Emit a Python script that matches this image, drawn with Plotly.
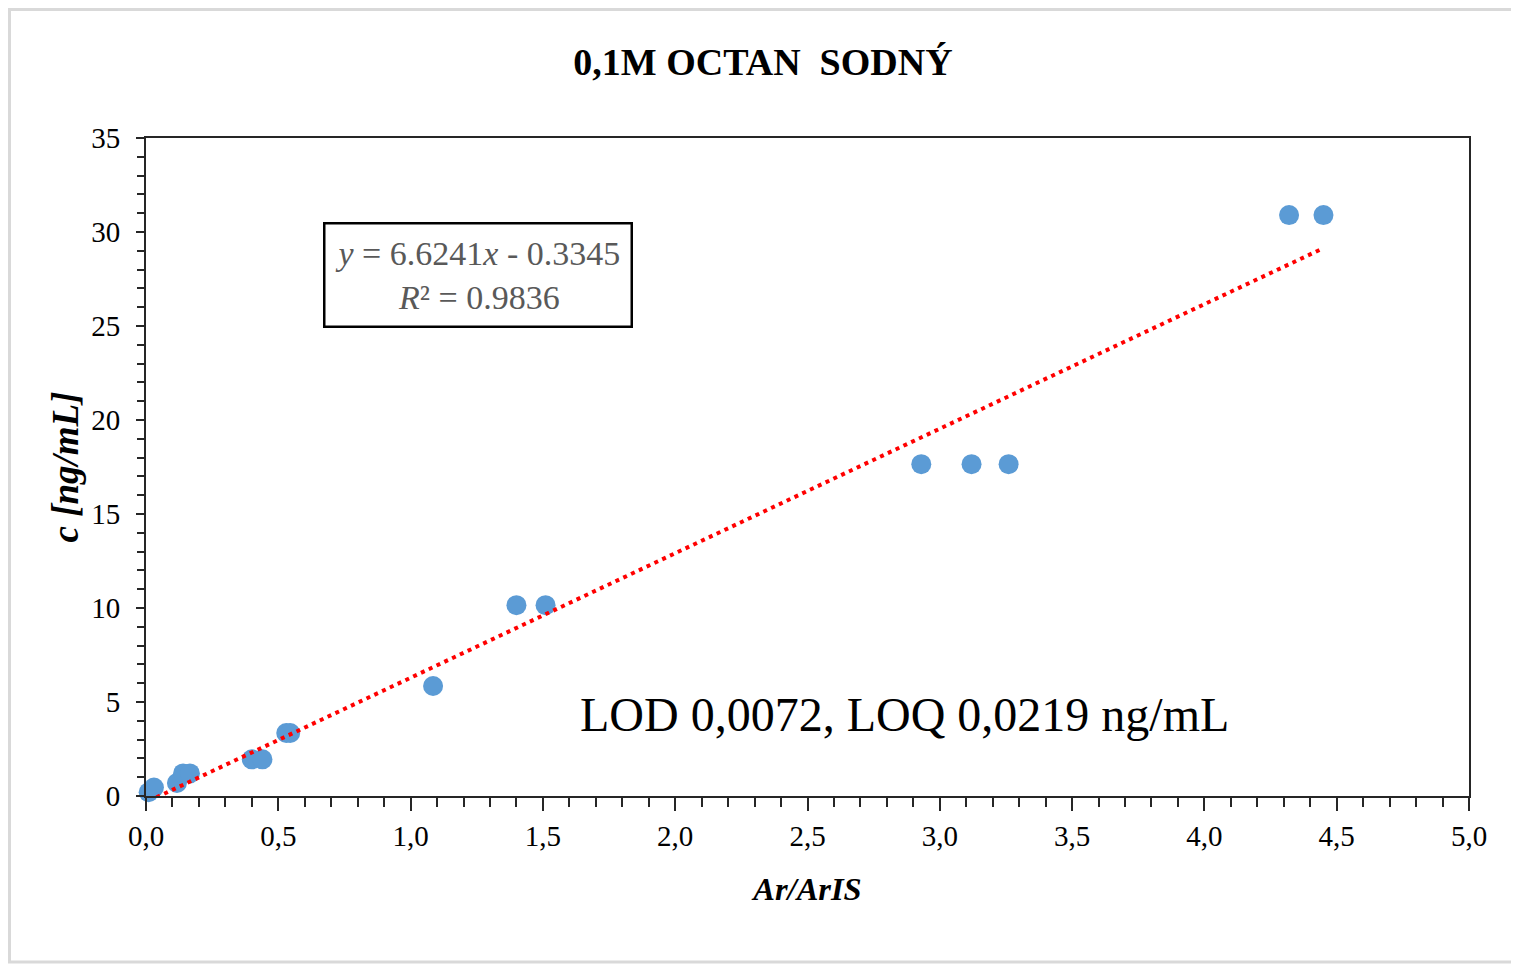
import plotly.graph_objects as go

# Data
ratio = [0.01, 0.03, 0.117, 0.14, 0.166, 0.40, 0.44, 0.53, 0.545, 1.085, 1.40, 1.51, 2.93, 3.12, 3.26, 4.32, 4.45]
conc = [0.2, 0.45, 0.69, 1.2, 1.2, 1.95, 1.95, 3.35, 3.35, 5.85, 10.15, 10.15, 17.65, 17.65, 17.65, 30.9, 30.9]
slope = 6.6241
intercept = -0.3345
r2 = 0.9836
x_ticks = [0.0, 0.5, 1.0, 1.5, 2.0, 2.5, 3.0, 3.5, 4.0, 4.5, 5.0]
x_tick_labels = ["0,0", "0,5", "1,0", "1,5", "2,0", "2,5", "3,0", "3,5", "4,0", "4,5", "5,0"]
y_ticks = [0, 5, 10, 15, 20, 25, 30, 35]

OFF = 8  # page body margin
W, H = 1519 - OFF, 966 - OFF
L, T = 146 - OFF, 138 - OFF
R = W - (1469 - OFF)
B = H - (796 - OFF)
PW, PH = W - L - R, H - T - B

FONT = "Liberation Serif"

trend_x = [min(ratio), max(ratio)]
trend_y = [slope * v + intercept for v in trend_x]

fig = go.Figure()
fig.add_trace(go.Scatter(
    x=ratio, y=conc, mode="markers",
    marker=dict(color="#5B9BD5", size=20, line=dict(width=0)),
    showlegend=False, cliponaxis=False))
fig.add_trace(go.Scatter(
    x=trend_x, y=trend_y, mode="lines",
    line=dict(color="#FF0000", width=4, dash="4px,4.6px"),
    showlegend=False))

def px2paper_x(px):
    return (px - OFF - L) / PW

def px2paper_y(py):
    return (H - B - (py - OFF)) / PH

fig.add_shape(type="rect", xref="paper", yref="paper",
              x0=px2paper_x(9.5), x1=px2paper_x(1516),
              y0=px2paper_y(962), y1=px2paper_y(9.5),
              line=dict(color="#D9D9D9", width=3), layer="below")

fig.add_annotation(
    x=1.255, y=27.7, xref="x", yref="y", xanchor="center", yanchor="middle",
    text=f"<i>y</i> = {slope}<i>x</i> - {abs(intercept)}<br><i>R</i>² = {r2}",
    showarrow=False, align="center",
    font=dict(family=FONT, size=34, color="#595959"),
    bordercolor="#000000", borderwidth=2.5, borderpad=10, bgcolor="white")

fig.add_annotation(
    x=2.865, y=4.31, xref="x", yref="y", xanchor="center", yanchor="middle",
    text="LOD 0,0072, LOQ 0,0219 ng/mL", showarrow=False,
    font=dict(family=FONT, size=48, color="#000000"))

fig.update_layout(
    width=W, height=H,
    margin=dict(l=L, r=R, t=T, b=B),
    paper_bgcolor="white", plot_bgcolor="white",
    title=dict(text="<b>0,1M OCTAN  SODNÝ</b>", x=(763 - OFF) / W, xanchor="center",
               y=1 - (62 - OFF) / H, yanchor="middle", yref="container",
               font=dict(family=FONT, size=38, color="#000000")),
    font=dict(family=FONT, color="#000000"),
)

fig.update_xaxes(
    range=[0, 5], tickmode="array", tickvals=x_ticks, ticktext=x_tick_labels,
    ticks="outside", ticklen=13, tickwidth=2, tickcolor="#262626",
    minor=dict(dtick=0.1, ticks="outside", ticklen=9, tickwidth=2, tickcolor="#262626"),
    showgrid=False, zeroline=False,
    showline=True, linecolor="#262626", linewidth=2, mirror=True,
    tickfont=dict(family=FONT, size=29, color="#000000"),
    title=dict(text="<b><i>Ar/ArIS</i></b>", font=dict(family=FONT, size=32.5, color="#000000"), standoff=26),
)
fig.update_yaxes(
    range=[0, 35], tickmode="array", tickvals=y_ticks,
    ticks="outside", ticklen=8, tickwidth=2, tickcolor="#262626",
    minor=dict(dtick=1, ticks="outside", ticklen=7, tickwidth=2, tickcolor="#262626"),
    showgrid=False, zeroline=False,
    showline=True, linecolor="#262626", linewidth=2, mirror=True,
    tickfont=dict(family=FONT, size=29, color="#000000"),
    ticklabelstandoff=10,
    title=dict(text="<b><i>c [ng/mL]</i></b>", font=dict(family=FONT, size=37, color="#000000"), standoff=1),
)

fig.write_html("out.html")
